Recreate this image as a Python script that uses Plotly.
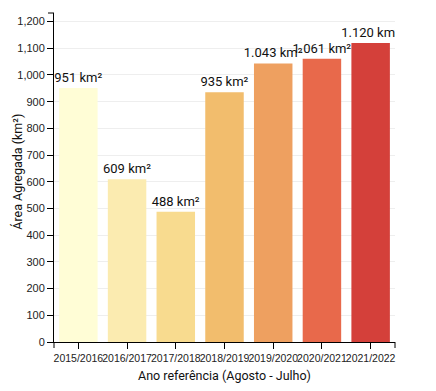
import plotly.graph_objects as go

categories = ["2015/2016", "2016/2017", "2017/2018", "2018/2019", "2019/2020", "2020/2021", "2021/2022"]
values = [951, 609, 488, 935, 1043, 1061, 1120]
colors = ["#fffdd6", "#fbebb0", "#f8db8f", "#f2bd6d", "#eea060", "#e8694b", "#d4403a"]
y_ticks = list(range(0, 1201, 100))
y_ticktext = [f"{v:,}" for v in y_ticks]
labels = [f"{v:,}".replace(",", ".") + " km²" for v in values]
y_max = max(values) * 1.1

fig = go.Figure(go.Bar(
    x=categories, y=values, marker=dict(color=colors, line=dict(width=0)),
    text=labels, textposition="outside", textangle=0, constraintext="none",
    cliponaxis=True, textfont=dict(family="Roboto", size=13, color="#111"),
    hoverinfo="skip",
))

fig.update_layout(
    width=420, height=375,
    margin=dict(l=46, r=33, t=5, b=41, autoexpand=False),
    paper_bgcolor="white", plot_bgcolor="white",
    bargap=0.21, showlegend=False,
    xaxis=dict(type="category", range=[-0.5, 6.5], showline=True, linecolor="black", linewidth=1,
               ticks="outside", ticklen=6, tickcolor="black", showgrid=False,
               tickangle=0, automargin=False,
               tickfont=dict(family="Liberation Sans", size=10.5, color="#222")),
    yaxis=dict(range=[0, y_max], tickvals=y_ticks, ticktext=y_ticktext, showline=True,
               linecolor="black", linewidth=1, ticks="outside", ticklen=6, tickcolor="black",
               showgrid=True, gridcolor="#eeeeee", gridwidth=1, zeroline=False,
               automargin=False,
               tickfont=dict(family="Liberation Sans", size=11, color="#222")),
    annotations=[
        dict(text="Área Agregada (km²)", xref="paper", yref="paper", x=-0.108, y=0.518,
             textangle=-90, showarrow=False, xanchor="center", yanchor="middle",
             font=dict(family="Roboto", size=12.5, color="#111")),
        dict(text="Ano referência (Agosto - Julho)", xref="paper", yref="paper", x=0.5, y=-0.103,
             showarrow=False, xanchor="center", yanchor="middle",
             font=dict(family="Roboto", size=12.5, color="#111")),
    ],
    shapes=[
        dict(type="line", xref="paper", yref="paper", x0=0, x1=0, y0=0, y1=-6,
             ysizemode="pixel", yanchor=0, line=dict(color="black", width=1)),
        dict(type="line", xref="paper", yref="paper", x0=1, x1=1, y0=0, y1=-6,
             ysizemode="pixel", yanchor=0, line=dict(color="black", width=1)),
        dict(type="line", xref="paper", yref="paper", x0=-6, x1=0, y0=1, y1=1,
             xsizemode="pixel", xanchor=0, line=dict(color="black", width=1)),
    ],
)

fig.write_html("out.html")
